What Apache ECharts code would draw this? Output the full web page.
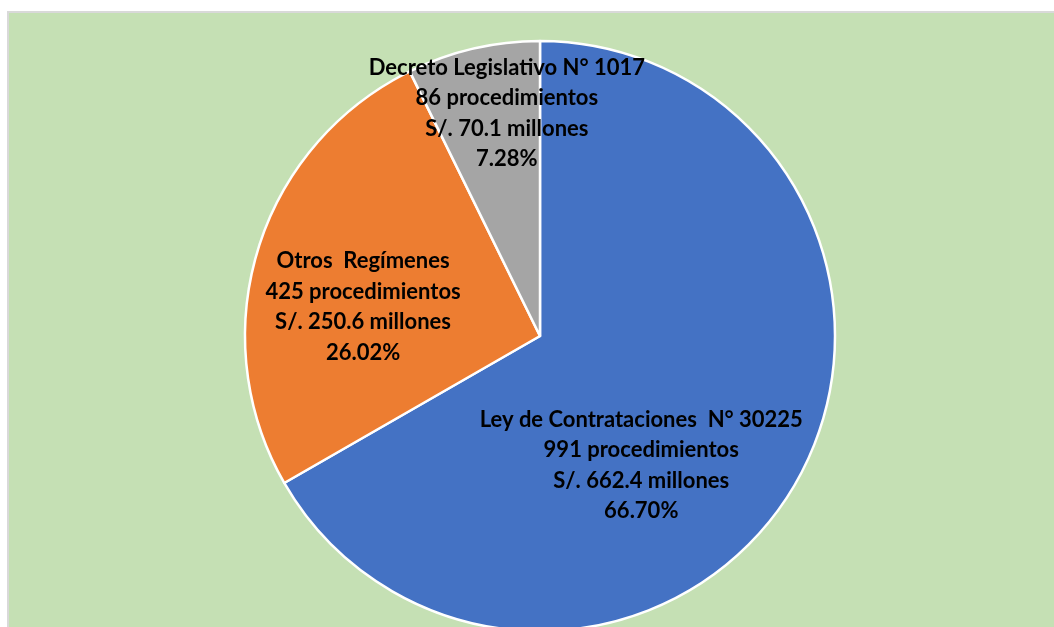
<!DOCTYPE html>
<html>
<head>
<meta charset="utf-8">
<script src="https://cdn.jsdelivr.net/npm/echarts@6/dist/echarts.min.js"></script>
<style>
  html, body { margin: 0; padding: 0; background: #fff; overflow: hidden; }
  #frame {
    position: absolute; left: 7px; top: 11px;
    border-left: 2px solid #d9d9d9; border-top: 2px solid #d9d9d9;
  }
  #main { width: 1045px; height: 614px; }
</style>
</head>
<body>
<div id="frame"><div id="main"></div></div>
<script>
var regimenes = ['Ley de Contrataciones  N° 30225', 'Otros  Regímenes', 'Decreto Legislativo N° 1017'];
var procedimientos = [991, 425, 86];
var montos = ['662.4', '250.6', '70.1'];
var porcentajes = [66.70, 26.02, 7.28];
var colores = ['#4472c4', '#ed7d31', '#a5a5a5'];
// nudge from the default inside position, per slice
var desplaz = [[-29, 54], [-33, 15], [1, -76]];

var chartDom = document.getElementById('main');
var myChart = echarts.init(chartDom);
var option;

var datos = regimenes.map(function (n, i) {
    return {
        name: n,
        value: porcentajes[i],
        itemStyle: { color: colores[i] },
        label: {
            offset: desplaz[i],
            formatter: n + '\n' + procedimientos[i] + ' procedimientos\nS/. ' + montos[i] + ' millones\n' + porcentajes[i].toFixed(2) + '%'
        }
    };
});

option = {
    backgroundColor: '#c5e0b4',
    animation: false,
    series: [
        {
            type: 'pie',
            center: [531, 323],
            radius: 295,
            startAngle: 90,
            clockwise: true,
            itemStyle: {
                borderColor: '#ffffff',
                borderWidth: 2.5
            },
            label: {
                show: true,
                position: 'inside',
                color: '#000',
                fontFamily: 'Lato',
                fontWeight: 'bold',
                fontSize: 22,
                lineHeight: 30.5,
                align: 'center'
            },
            labelLine: { show: false },
            emphasis: { disabled: true },
            data: datos
        }
    ]
};

option && myChart.setOption(option);
window.addEventListener("resize", function () {
    myChart.resize();
});
</script>
</body>
</html>
